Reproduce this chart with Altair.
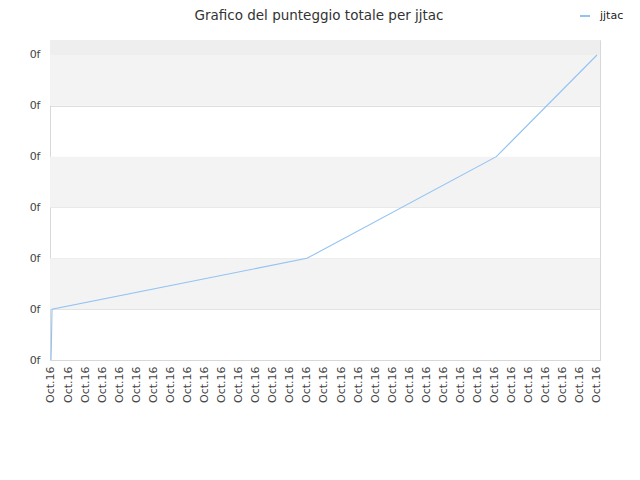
import altair as alt
import pandas as pd

# data
x_index = [0, 0.02, 0.06, 15.0, 26.1, 32.0]
scores = [0.0, 0.25, 1.0, 2.0, 4.0, 6.0]
series = ["jjtac"] * len(x_index)
x_ticks = list(range(33))
y_ticks = [0, 1, 2, 3, 4, 5, 6]
x_label = "Oct.16"
y_label = "0f"
title = "Grafico del punteggio totale per jjtac"

df = pd.DataFrame({"x": x_index, "y": scores, "serie": series})

y_top = 6.295
bands = pd.DataFrame({
    "y0": [1, 3, 5, 6],
    "y1": [2, 4, 6, y_top],
    "c": ["#f3f3f3", "#f3f3f3", "#f3f3f3", "#eeeeee"],
})

xscale = alt.Scale(domain=[-0.0586, 32.176], nice=False, zero=False)
yscale = alt.Scale(domain=[0, y_top], nice=False, zero=True)

band_layer = alt.Chart(bands).mark_rect().encode(
    x=alt.value(0),
    x2=alt.value(550),
    y=alt.Y("y0:Q", scale=yscale),
    y2="y1:Q",
    fill=alt.Fill("c:N", scale=None),
)

line = alt.Chart(df).mark_line(strokeWidth=1.1, color="#92c3f2").encode(
    x=alt.X("x:Q", scale=xscale,
            axis=alt.Axis(values=x_ticks, labelExpr=f"'{x_label}'", labelAngle=270,
                          labelAlign="right", labelBaseline="middle", labelPadding=6,
                          ticks=False, grid=False, domain=True, domainColor="#d8d8d8",
                          labelFont="DejaVu Sans", labelFontSize=11, labelColor="#444444",
                          title=None, labelOverlap=False, labelBound=False, labelFlush=False)),
    y=alt.Y("y:Q", scale=yscale,
            axis=alt.Axis(values=y_ticks, labelExpr=f"'{y_label}'", ticks=False,
                          grid=True, gridColor="#dedede", domain=True, domainColor="#d8d8d8",
                          labelPadding=10, labelFont="DejaVu Sans", labelFontSize=11,
                          labelColor="#444444", title=None, labelOverlap=False)),
    stroke=alt.Stroke("serie:N", scale=alt.Scale(range=["#92c3f2"]),
                      legend=alt.Legend(title=None, orient="none", legendX=529, legendY=-30,
                                        symbolType="stroke", symbolSize=100,
                                        symbolStrokeWidth=2, labelFont="DejaVu Sans",
                                        labelFontSize=11, labelColor="#222222",
                                        labelOffset=9)),
)

chart = alt.layer(band_layer, line).properties(
    width=550,
    height=320,
    title=alt.TitleParams(title, font="DejaVu Sans", fontSize=13.5, fontWeight="normal",
                          color="#333333", anchor="middle", offset=0, dy=12, dx=-6),
    autosize=alt.AutoSizeParams(type="none"),
    padding={"left": 42, "top": 32, "right": 30, "bottom": 100},
).configure_view(stroke="#d8d8d8", strokeWidth=1)

chart.save("out.html", embed_options={"renderer": "svg", "actions": False})
